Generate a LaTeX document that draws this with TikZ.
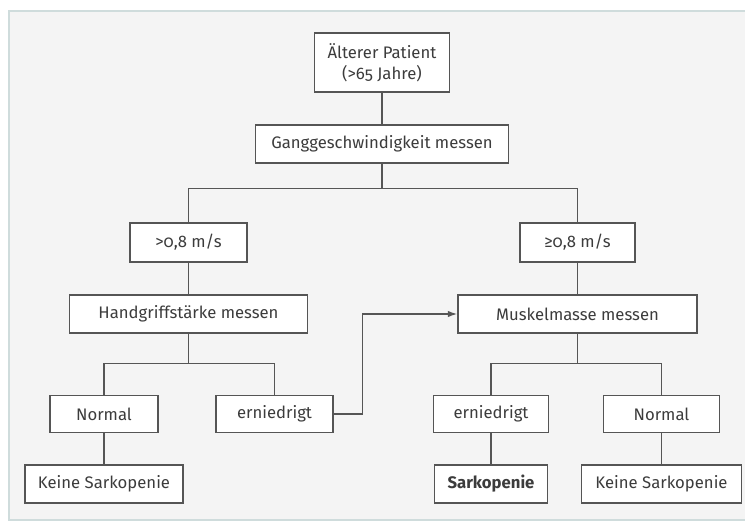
\documentclass[tikz,border=0pt]{standalone}
\usepackage{fontspec}
\setmainfont{Fira Sans}[Numbers=OldStyle]
\usetikzlibrary{arrows.meta, positioning, calc}

\definecolor{textgray}{HTML}{3C3C3C}
\definecolor{linegray}{HTML}{555555}
\definecolor{panelfill}{HTML}{F4F4F4}
\definecolor{panelline}{HTML}{CFDCDC}

\begin{document}
\begin{tikzpicture}[
  x=0.2mm, y=-0.2mm,
  box/.style   = {draw=linegray, line width=0.8pt, fill=white, minimum height=7.6mm,
                  align=center, inner sep=2pt, text=textgray, font=\fontsize{9.5}{12}\selectfont},
  link/.style  = {draw=linegray, line width=0.8pt},
  arrow/.style = {link, -{Latex[length=1.9mm, width=1.3mm]}}
]
  \useasboundingbox (0,0) rectangle (745,523);

  % panel
  \draw[panelline, fill=panelfill, line width=0.8pt] (9,11) rectangle (760,520);

  % top
  \node[box, minimum width=27mm, minimum height=11.8mm] (patient) at (382,62.5)
    {Älterer Patient\\(>65 Jahre)};
  \node[box, minimum width=50.6mm] (gang) at (382,144) {Ganggeschwindigkeit messen};

  % left branch
  \node[box, minimum width=23.4mm, minimum height=7.8mm] (slow) at (188.5,242.5) {>0,8 m/s};
  \node[box, minimum width=47.6mm] (hand) at (188.5,314) {Handgriffstärke messen};
  \node[box, minimum width=21.6mm, minimum height=7.4mm] (normL) at (104,414) {Normal};
  \node[box, minimum width=23.4mm, minimum height=7.4mm] (erniL) at (274.5,414) {erniedrigt};
  \node[box, minimum width=31.6mm] (keineL) at (104,484) {Keine Sarkopenie};

  % right branch
  \node[box, minimum width=23mm, minimum height=7.8mm] (fast) at (577.5,242.5) {≥0,8 m/s};
  \node[box, minimum width=47.8mm] (muskel) at (577.5,314) {Muskelmasse messen};
  \node[box, minimum width=23mm, minimum height=7.4mm] (erniR) at (491,414) {erniedrigt};
  \node[box, minimum width=23.2mm, minimum height=7.4mm] (normR) at (661.5,414) {Normal};
  \node[box, minimum width=22.6mm] (sarko) at (491,484) {\textbf{Sarkopenie}};
  \node[box, minimum width=32mm] (keineR) at (661.5,484) {Keine Sarkopenie};

  % split points
  \coordinate[below=5mm of gang.south] (gsplit);
  \coordinate[below=6mm of hand.south] (hsplit);
  \coordinate[below=6mm of muskel.south] (msplit);

  \draw[link] (patient) -- (gang);
  \draw[link] (gang.south) -- (gsplit) -| (slow.north);
  \draw[link] (gsplit) -| (fast.north);

  \draw[link] (slow) -- (hand);
  \draw[link] (hand.south) -- (hsplit) -| (normL.north);
  \draw[link] (hsplit) -| (erniL.north);
  \draw[link] (normL) -- (keineL);

  \draw[link] (fast) -- (muskel);
  \draw[link] (muskel.south) -- (msplit) -| (erniR.north);
  \draw[link] (msplit) -| (normR.north);
  \draw[link] (erniR) -- (sarko);
  \draw[link] (normR) -- (keineR);

  % low grip strength goes on to muscle mass
  \coordinate (bend) at ($(erniL.east)+(29,0)$);
  \draw[arrow] (erniL.east) -- (bend) |- (muskel.west);

\end{tikzpicture}
\end{document}
